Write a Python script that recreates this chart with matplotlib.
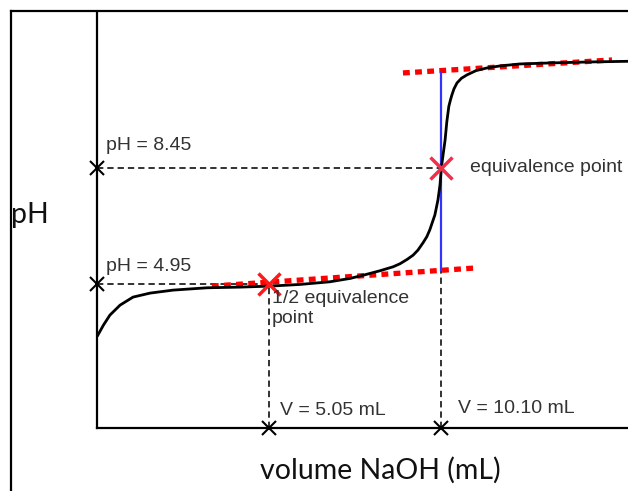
import matplotlib
matplotlib.use("Agg")
import matplotlib.pyplot as plt
from matplotlib.lines import Line2D

# titration curve (volume in mL, pH)
vol = [0.01, 0.19, 0.38, 0.68, 1.06, 1.56, 2.24, 3.24, 4.21, 5.09, 5.97,
       6.85, 7.44, 7.88, 8.32, 8.71, 8.91, 9.12, 9.30, 9.44, 9.59, 9.70,
       9.79, 9.94, 10.03, 10.09, 10.13, 10.18, 10.24, 10.29, 10.35, 10.40,
       10.44, 10.50, 10.59, 10.72, 10.88, 11.15, 11.47, 11.85, 12.44, 13.32,
       14.50, 15.62]
ph = [3.40, 3.73, 4.03, 4.33, 4.57, 4.69, 4.78, 4.85, 4.87, 4.90, 4.95,
      5.03, 5.13, 5.24, 5.36, 5.48, 5.57, 5.70, 5.83, 5.98, 6.20, 6.38,
      6.59, 7.04, 7.49, 7.94, 8.45, 8.84, 9.29, 9.83, 10.30, 10.50,
      10.64, 10.82, 11.00, 11.14, 11.24, 11.37, 11.45, 11.51, 11.57, 11.60,
      11.63, 11.65]

# key points
half_eq_vol, half_eq_ph = 5.05, 4.95
eq_vol, eq_ph = 10.12, 8.45

# tangent lines (red dotted)
upper_tan_vol = [9.0, 15.15]
upper_tan_ph = [11.30, 11.69]
lower_tan_vol = [3.38, 11.21]
lower_tan_ph = [4.90, 5.45]

# vertical blue line through equivalence point
blue_ph = [5.39, 11.33]

xmin, xmax = 0, 15.62
ymin, ymax = 0.64, 13.13

W, H = 628, 491
fig = plt.figure(figsize=(W / 100, H / 100), dpi=100)
ax = fig.add_axes([97 / W, (H - 428) / H, (W - 97) / W, (428 - 12) / H])
ax.set_xlim(xmin, xmax)
ax.set_ylim(ymin, ymax)
ax.set_xticks([])
ax.set_yticks([])
for s in ["top", "right"]:
    ax.spines[s].set_visible(False)
for s in ["left", "bottom"]:
    ax.spines[s].set_linewidth(1.6)

dash = dict(color="#222222", lw=1.3, linestyle=(0, (3.5, 2.2)))

# dashed guide lines
ax.plot([xmin, eq_vol], [eq_ph, eq_ph], **dash)
ax.plot([xmin, half_eq_vol], [half_eq_ph, half_eq_ph], **dash)
ax.plot([half_eq_vol, half_eq_vol], [ymin, half_eq_ph], **dash)
ax.plot([eq_vol, eq_vol], [ymin, blue_ph[0]], **dash)

# tangent lines
red_dot = dict(color="red", lw=3.8, linestyle=(0, (1.3, 1.0)), dash_capstyle="butt")
ax.plot(upper_tan_vol, upper_tan_ph, **red_dot)
ax.plot(lower_tan_vol, lower_tan_ph, **red_dot)

# blue vertical
ax.plot([eq_vol, eq_vol], blue_ph, color="#3333ff", lw=1.6)

# titration curve
ax.plot(vol, ph, color="black", lw=2.0, solid_capstyle="round",
        solid_joinstyle="round")

# markers on axes
ax.plot([xmin, xmin], [eq_ph, half_eq_ph], "x", color="black", ms=10, mew=1.5,
        clip_on=False)
ax.plot([half_eq_vol, eq_vol], [ymin, ymin], "x", color="black", ms=10, mew=1.5,
        clip_on=False)

# red X markers
ax.plot([half_eq_vol], [half_eq_ph], "x", color="#ff1a1a", ms=16, mew=2.5)
ax.plot([eq_vol], [eq_ph], "x", color="#f0304a", ms=16, mew=2.5)

# annotations
font = dict(family="Liberation Sans", fontsize=14, color="#333333")
ax.text(0.26, 9.11, "pH = 8.45", va="center", ha="left", **font)
ax.text(0.26, 5.48, "pH = 4.95", va="center", ha="left", **font)
ax.text(10.97, eq_ph, "equivalence point", va="center", ha="left", **font)
ax.text(5.15, 4.78, "1/2 equivalence\npoint", va="top", ha="left",
        linespacing=1.2, **font)
ax.text(5.38, 1.18, "V = 5.05 mL", va="center", ha="left", **font)
ax.text(10.62, 1.24, "V = 10.10 mL", va="center", ha="left", **font)

# axis labels
fig.text(30 / W, 1 - 223 / H, "pH", family="Lato", fontsize=20.5,
         color="#111111", ha="center", va="baseline")
fig.text(380 / W, 1 - 479 / H, "volume NaOH (mL)", family="Lato",
         fontsize=20.5, color="#111111", ha="center", va="baseline")

# outer frame
fig.add_artist(Line2D([11 / W, 11 / W], [0, 1 - 11 / H], color="black", lw=1.6))
fig.add_artist(Line2D([11 / W, 1], [1 - 11 / H, 1 - 11 / H], color="black", lw=1.6))

fig.savefig("out.png", dpi=100)
